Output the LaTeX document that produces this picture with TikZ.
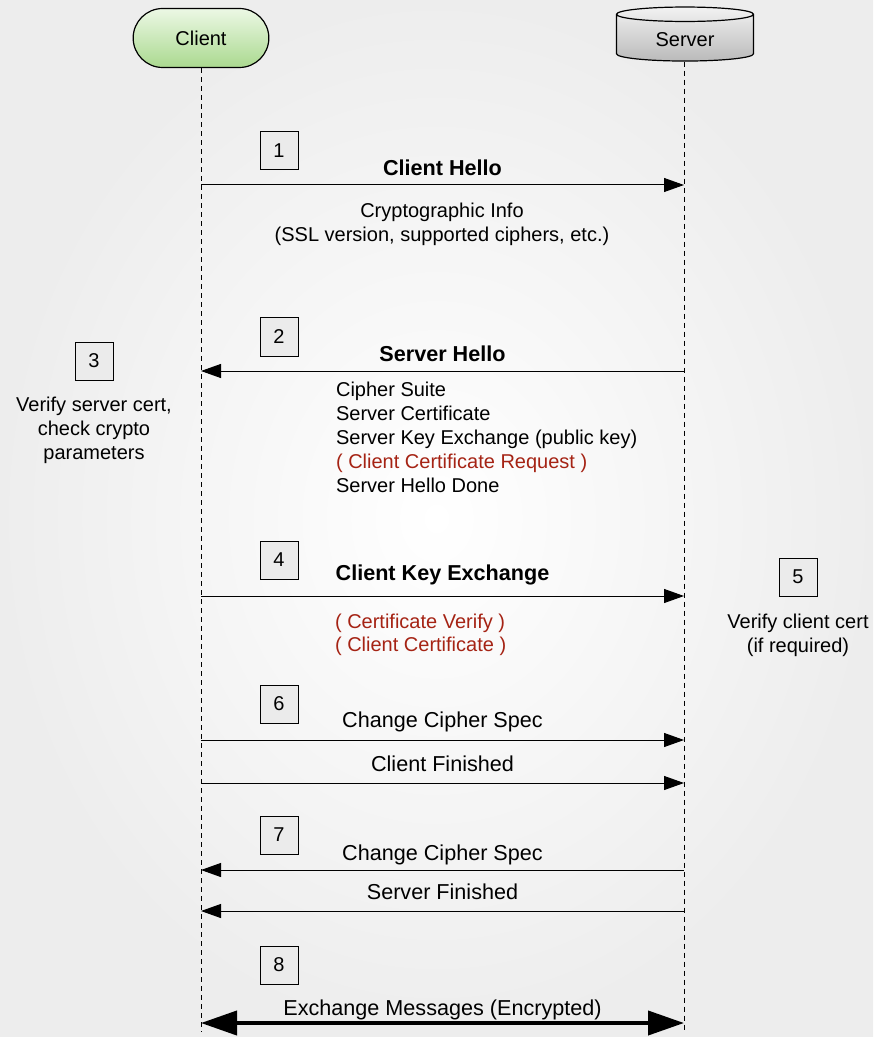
\documentclass[tikz,border=0pt]{standalone}
\usepackage{fontspec}
\setmainfont{Liberation Sans}
\usetikzlibrary{arrows.meta,shapes.geometric,shapes.misc}

\definecolor{optred}{RGB}{165,35,20}
\definecolor{clienttop}{RGB}{236,248,229}
\definecolor{clientbot}{RGB}{170,217,143}
\definecolor{servertop}{RGB}{242,242,242}
\definecolor{serverbot}{RGB}{186,186,186}

\tikzset{
  party/.style={draw, line width=0.6pt},
  lifeline/.style={line width=0.5pt, dash pattern=on 2.5pt off 2pt},
  stepbox/.style={draw, fill=black!8, line width=0.5pt, minimum size=19pt, inner sep=0pt},
  msg/.style={draw, line width=0.5pt, -{Triangle[length=10pt,width=7pt]}},
  exch/.style={draw, line width=2pt, {Triangle[length=18pt,width=12pt]}-{Triangle[length=18pt,width=12pt]}},
  msglabel/.style={font=\fontsize{10.8}{13}\selectfont}
}

\begin{document}
\begin{tikzpicture}[x=0.5pt,y=-0.5pt,font=\fontsize{10}{12}\selectfont]

      \shade[inner color=white, outer color=black!7] (0,0) rectangle (873,1037);
      \useasboundingbox (0,0) rectangle (873,1037);

      \node[party, rounded rectangle, minimum width=74.5pt, minimum height=29.5pt,
            top color=clienttop, bottom color=clientbot] (client) at (201,38) {Client};
      \node[party, cylinder, shape border rotate=90, aspect=0.2,
            minimum width=68.5pt, minimum height=27pt,
            top color=servertop, bottom color=serverbot] (server) at (685,39.5) {Server};

      \coordinate (cend) at (201,1032);
      \coordinate (send) at (684,1032);
      \draw[lifeline] (client.south) -- (cend);
      \draw[lifeline] (server.south -| send) -- (send);

      \coordinate (c1) at (201,185);   \coordinate (s1) at (684,185);
      \coordinate (c2) at (201,371);   \coordinate (s2) at (684,371);
      \coordinate (c4) at (201,596);   \coordinate (s4) at (684,596);
      \coordinate (c6) at (201,740);   \coordinate (s6) at (684,740);
      \coordinate (c6b) at (201,783);  \coordinate (s6b) at (684,783);
      \coordinate (c7) at (201,870);   \coordinate (s7) at (684,870);
      \coordinate (c7b) at (201,911);  \coordinate (s7b) at (684,911);
      \coordinate (c8) at (201,1023);  \coordinate (s8) at (684,1023);

      \begin{scope}[every node/.style={stepbox}]
        \node (n1) at (279,151) {1};
        \node (n2) at (279,337) {2};
        \node (n3) at (94,361)  {3};
        \node (n4) at (279,560) {4};
        \node (n5) at (798,577) {5};
        \node (n6) at (279,704) {6};
        \node (n7) at (279,835) {7};
        \node (n8) at (279,965) {8};
      \end{scope}

      \begin{scope}[every edge/.style={msg}, every node/.style={msglabel}]
        \path (c1)  edge node[above=1pt] {\bfseries Client Hello} (s1);
        \path (s2)  edge node[above=1pt] {\bfseries Server Hello} (c2);
        \path (c4)  edge node[above=2pt] {\bfseries Client Key Exchange} (s4);
        \path (c6)  edge node[above=0.5pt] {Change Cipher Spec} (s6);
        \path (c6b) edge node[above=2pt] {Client Finished} (s6b);
        \path (s7)  edge node[above=-1pt] {Change Cipher Spec} (c7);
        \path (s7b) edge node[above=2pt] {Server Finished} (c7b);
        \path (c8)  edge[exch] node[above=-3pt] {Exchange Messages (Encrypted)} (s8);
      \end{scope}

      \begin{scope}[every node/.style={align=center}]
        \node (info1) at (442,224) {Cryptographic Info\\(SSL version, supported ciphers, etc.)};
        \node (info3) at (94,430) {\fontsize{10}{11}\selectfont Verify server cert,\\check crypto\\parameters};
        \node (info5) at (798,635) {\fontsize{10}{11}\selectfont Verify client cert\\(if required)};
      \end{scope}

      \begin{scope}[every node/.style={align=left, anchor=west}]
        \node (info2) at (329,437.5) {Cipher Suite\\Server Certificate\\Server Key Exchange (public key)\\
          \textcolor{optred}{( Client Certificate Request )}\\Server Hello Done};
        \node[text=optred, font=\fontsize{10}{11.5}\selectfont] (info4) at (328,634.5)
          {( Certificate Verify )\\( Client Certificate )};
      \end{scope}

    \end{tikzpicture}
\end{document}
